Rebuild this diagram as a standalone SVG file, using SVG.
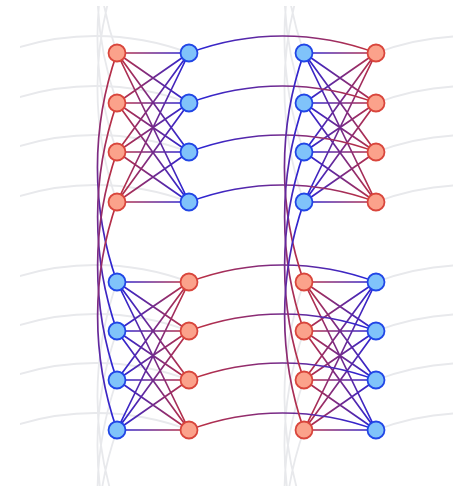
<svg xmlns="http://www.w3.org/2000/svg" width="463" height="486" viewBox="0 0 463 486">
<defs>
<linearGradient id="gRB" gradientUnits="userSpaceOnUse" x1="117" y1="0" x2="189" y2="0"><stop offset="0" stop-color="#c2303c"/><stop offset="1" stop-color="#2424dc"/></linearGradient>
<linearGradient id="gBR" gradientUnits="userSpaceOnUse" x1="117" y1="0" x2="189" y2="0"><stop offset="0" stop-color="#2424dc"/><stop offset="1" stop-color="#c2303c"/></linearGradient>
<linearGradient id="gBR2" gradientUnits="userSpaceOnUse" x1="304" y1="0" x2="376" y2="0"><stop offset="0" stop-color="#2424dc"/><stop offset="1" stop-color="#c2303c"/></linearGradient>
<linearGradient id="gRB2" gradientUnits="userSpaceOnUse" x1="304" y1="0" x2="376" y2="0"><stop offset="0" stop-color="#c2303c"/><stop offset="1" stop-color="#2424dc"/></linearGradient>
<linearGradient id="gArcBR" gradientUnits="userSpaceOnUse" x1="189" y1="0" x2="376" y2="0"><stop offset="0" stop-color="#2424dc"/><stop offset="1" stop-color="#c2303c"/></linearGradient>
<linearGradient id="gArcRB" gradientUnits="userSpaceOnUse" x1="189" y1="0" x2="376" y2="0"><stop offset="0" stop-color="#c2303c"/><stop offset="1" stop-color="#2424dc"/></linearGradient>
<linearGradient id="gVRB" x1="0" y1="0" x2="0" y2="1"><stop offset="0" stop-color="#c2303c"/><stop offset="1" stop-color="#2424dc"/></linearGradient>
<linearGradient id="gVBR" x1="0" y1="0" x2="0" y2="1"><stop offset="0" stop-color="#2424dc"/><stop offset="1" stop-color="#c2303c"/></linearGradient>
<clipPath id="clip"><rect x="20" y="6" width="433" height="480"/></clipPath>
</defs>
<style>
.bg{fill:none;stroke:#e8e9ec;stroke-width:1.8}
.e{fill:none;stroke-width:1.7}
.red{fill:#fba28b;stroke:#d9463c;stroke-width:1.8}
.blue{fill:#80c3fa;stroke:#2146e6;stroke-width:1.8}
</style>
<rect width="463" height="486" fill="#ffffff"/>
<g id="background-arcs" clip-path="url(#clip)">
<path class="bg" d="M2,53 A265.6,265.6 0 0 1 189,53 M2,103 A265.6,265.6 0 0 1 189,103 M2,152 A265.6,265.6 0 0 1 189,152 M2,202 A265.6,265.6 0 0 1 189,202 M2,282 A265.6,265.6 0 0 1 189,282 M2,331 A265.6,265.6 0 0 1 189,331 M2,380 A265.6,265.6 0 0 1 189,380 M2,430 A265.6,265.6 0 0 1 189,430"/>
<path class="bg" d="M376,53 A265.6,265.6 0 0 1 563,53 M376,103 A265.6,265.6 0 0 1 563,103 M376,152 A265.6,265.6 0 0 1 563,152 M376,202 A265.6,265.6 0 0 1 563,202 M376,282 A265.6,265.6 0 0 1 563,282 M376,331 A265.6,265.6 0 0 1 563,331 M376,380 A265.6,265.6 0 0 1 563,380 M376,430 A265.6,265.6 0 0 1 563,430"/>
<path class="bg" d="M117,-176 A345,345 0 0 0 117,53 M117,-126 A345,345 0 0 0 117,103 M117,-77 A345,345 0 0 0 117,152 M117,-27 A345,345 0 0 0 117,202 M117,282 A345,345 0 0 0 117,511 M117,331 A345,345 0 0 0 117,560 M117,380 A345,345 0 0 0 117,609 M117,430 A345,345 0 0 0 117,659"/>
<path class="bg" d="M304,-176 A345,345 0 0 0 304,53 M304,-126 A345,345 0 0 0 304,103 M304,-77 A345,345 0 0 0 304,152 M304,-27 A345,345 0 0 0 304,202 M304,282 A345,345 0 0 0 304,511 M304,331 A345,345 0 0 0 304,560 M304,380 A345,345 0 0 0 304,609 M304,430 A345,345 0 0 0 304,659"/>
</g>
<g id="connectors">
<path class="e" stroke="url(#gRB)" d="M117,53L189,53M117,53L189,103M117,53L189,152M117,53L189,202M117,103L189,53M117,103L189,103M117,103L189,152M117,103L189,202M117,152L189,53M117,152L189,103M117,152L189,152M117,152L189,202M117,202L189,53M117,202L189,103M117,202L189,152M117,202L189,202"/>
<path class="e" stroke="url(#gBR2)" d="M304,53L376,53M304,53L376,103M304,53L376,152M304,53L376,202M304,103L376,53M304,103L376,103M304,103L376,152M304,103L376,202M304,152L376,53M304,152L376,103M304,152L376,152M304,152L376,202M304,202L376,53M304,202L376,103M304,202L376,152M304,202L376,202"/>
<path class="e" stroke="url(#gBR)" d="M117,282L189,282M117,282L189,331M117,282L189,380M117,282L189,430M117,331L189,282M117,331L189,331M117,331L189,380M117,331L189,430M117,380L189,282M117,380L189,331M117,380L189,380M117,380L189,430M117,430L189,282M117,430L189,331M117,430L189,380M117,430L189,430"/>
<path class="e" stroke="url(#gRB2)" d="M304,282L376,282M304,282L376,331M304,282L376,380M304,282L376,430M304,331L376,282M304,331L376,331M304,331L376,380M304,331L376,430M304,380L376,282M304,380L376,331M304,380L376,380M304,380L376,430M304,430L376,282M304,430L376,331M304,430L376,380M304,430L376,430"/>
<path class="e" stroke="url(#gArcBR)" d="M189,53 A265.6,265.6 0 0 1 376,53 M189,103 A265.6,265.6 0 0 1 376,103 M189,152 A265.6,265.6 0 0 1 376,152 M189,202 A265.6,265.6 0 0 1 376,202"/>
<path class="e" stroke="url(#gArcRB)" d="M189,282 A265.6,265.6 0 0 1 376,282 M189,331 A265.6,265.6 0 0 1 376,331 M189,380 A265.6,265.6 0 0 1 376,380 M189,430 A265.6,265.6 0 0 1 376,430"/>
<path class="e" stroke="url(#gVRB)" d="M117,53 A345,345 0 0 0 117,282"/>
<path class="e" stroke="url(#gVRB)" d="M117,103 A345,345 0 0 0 117,331"/>
<path class="e" stroke="url(#gVRB)" d="M117,152 A345,345 0 0 0 117,380"/>
<path class="e" stroke="url(#gVRB)" d="M117,202 A345,345 0 0 0 117,430"/>
<path class="e" stroke="url(#gVBR)" d="M304,53 A345,345 0 0 0 304,282"/>
<path class="e" stroke="url(#gVBR)" d="M304,103 A345,345 0 0 0 304,331"/>
<path class="e" stroke="url(#gVBR)" d="M304,152 A345,345 0 0 0 304,380"/>
<path class="e" stroke="url(#gVBR)" d="M304,202 A345,345 0 0 0 304,430"/>
</g>
<g id="n1"><circle class="red" cx="117" cy="53" r="8.5"/></g>
<g id="n2"><circle class="red" cx="117" cy="103" r="8.5"/></g>
<g id="n3"><circle class="red" cx="117" cy="152" r="8.5"/></g>
<g id="n4"><circle class="red" cx="117" cy="202" r="8.5"/></g>
<g id="n5"><circle class="blue" cx="189" cy="53" r="8.5"/></g>
<g id="n6"><circle class="blue" cx="189" cy="103" r="8.5"/></g>
<g id="n7"><circle class="blue" cx="189" cy="152" r="8.5"/></g>
<g id="n8"><circle class="blue" cx="189" cy="202" r="8.5"/></g>
<g id="n9"><circle class="blue" cx="304" cy="53" r="8.5"/></g>
<g id="n10"><circle class="blue" cx="304" cy="103" r="8.5"/></g>
<g id="n11"><circle class="blue" cx="304" cy="152" r="8.5"/></g>
<g id="n12"><circle class="blue" cx="304" cy="202" r="8.5"/></g>
<g id="n13"><circle class="red" cx="376" cy="53" r="8.5"/></g>
<g id="n14"><circle class="red" cx="376" cy="103" r="8.5"/></g>
<g id="n15"><circle class="red" cx="376" cy="152" r="8.5"/></g>
<g id="n16"><circle class="red" cx="376" cy="202" r="8.5"/></g>
<g id="n17"><circle class="blue" cx="117" cy="282" r="8.5"/></g>
<g id="n18"><circle class="blue" cx="117" cy="331" r="8.5"/></g>
<g id="n19"><circle class="blue" cx="117" cy="380" r="8.5"/></g>
<g id="n20"><circle class="blue" cx="117" cy="430" r="8.5"/></g>
<g id="n21"><circle class="red" cx="189" cy="282" r="8.5"/></g>
<g id="n22"><circle class="red" cx="189" cy="331" r="8.5"/></g>
<g id="n23"><circle class="red" cx="189" cy="380" r="8.5"/></g>
<g id="n24"><circle class="red" cx="189" cy="430" r="8.5"/></g>
<g id="n25"><circle class="red" cx="304" cy="282" r="8.5"/></g>
<g id="n26"><circle class="red" cx="304" cy="331" r="8.5"/></g>
<g id="n27"><circle class="red" cx="304" cy="380" r="8.5"/></g>
<g id="n28"><circle class="red" cx="304" cy="430" r="8.5"/></g>
<g id="n29"><circle class="blue" cx="376" cy="282" r="8.5"/></g>
<g id="n30"><circle class="blue" cx="376" cy="331" r="8.5"/></g>
<g id="n31"><circle class="blue" cx="376" cy="380" r="8.5"/></g>
<g id="n32"><circle class="blue" cx="376" cy="430" r="8.5"/></g>
</svg>
